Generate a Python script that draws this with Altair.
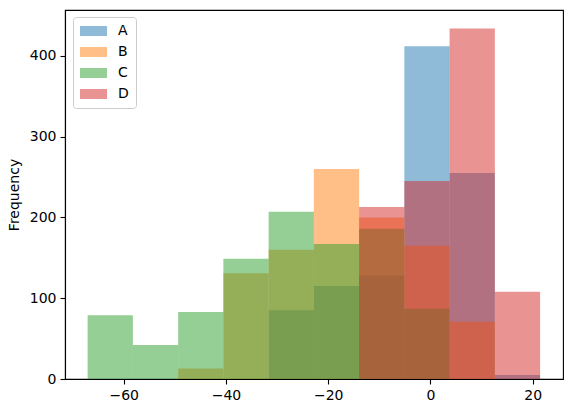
import altair as alt
import pandas as pd

edges = [-67.05, -58.2, -49.35, -40.5, -31.65, -22.8, -13.95, -5.1, 3.75, 12.6, 21.45]
series = ["A", "B", "C", "D"]
counts_A = [0, 0, 0, 0, 85, 115, 128, 412, 255, 5]
counts_B = [0, 0, 13, 131, 160, 260, 200, 165, 71, 0]
counts_C = [79, 42, 83, 149, 207, 167, 186, 87, 0, 0]
counts_D = [0, 0, 0, 0, 0, 0, 213, 245, 434, 108]
colors = ["#1f77b4", "#ff7f0e", "#2ca02c", "#d62728"]

rows = []
for name, cnts in zip(series, [counts_A, counts_B, counts_C, counts_D]):
    for i, c in enumerate(cnts):
        rows.append({"series": name, "lo": edges[i], "hi": edges[i + 1], "count": c, "base": 0})
df = pd.DataFrame(rows)

font = "DejaVu Sans"

chart = alt.Chart(df).mark_rect(opacity=0.5, strokeWidth=0).encode(
    x=alt.X("lo:Q", scale=alt.Scale(domain=[-71.48, 25.93], nice=False, zero=False),
            axis=alt.Axis(values=[-60, -40, -20, 0, 20], title=None, grid=False)),
    x2="hi:Q",
    y=alt.Y("count:Q", stack=None, scale=alt.Scale(domain=[0, 456.75], nice=False),
            axis=alt.Axis(values=[0, 100, 200, 300, 400], title="Frequency", grid=False)),
    y2="base:Q",
    color=alt.Color("series:N", scale=alt.Scale(domain=series, range=colors),
                    legend=alt.Legend(title=None, orient="none", legendX=8, legendY=7,
                                      symbolType="M-1,-0.37L1,-0.37L1,0.37L-1,0.37Z",
                                      symbolSize=729, symbolOpacity=0.5, symbolStrokeWidth=0,
                                      clipHeight=14, rowPadding=7, labelOffset=11,
                                      padding=7, strokeColor="#cccccc", fillColor="white",
                                      cornerRadius=3, labelFont=font, labelFontSize=14,
                                      labelColor="black")),
).properties(width=498, height=369)

chart = chart.configure(
    autosize=alt.AutoSizeParams(type="none"),
    padding={"left": 65, "top": 10, "right": 9, "bottom": 34},
).configure_view(stroke="black", strokeWidth=1.1).configure_axis(
    labelFont=font, labelFontSize=14, labelColor="black",
    titleFont=font, titleFontSize=14, titleFontWeight="normal", titleColor="black",
    domainColor="black", domainWidth=1.1, tickColor="black", tickWidth=1.1,
    tickSize=5, labelPadding=4, titlePadding=8,
)

chart.save("out.html", embed_options={"renderer": "svg", "actions": False})
